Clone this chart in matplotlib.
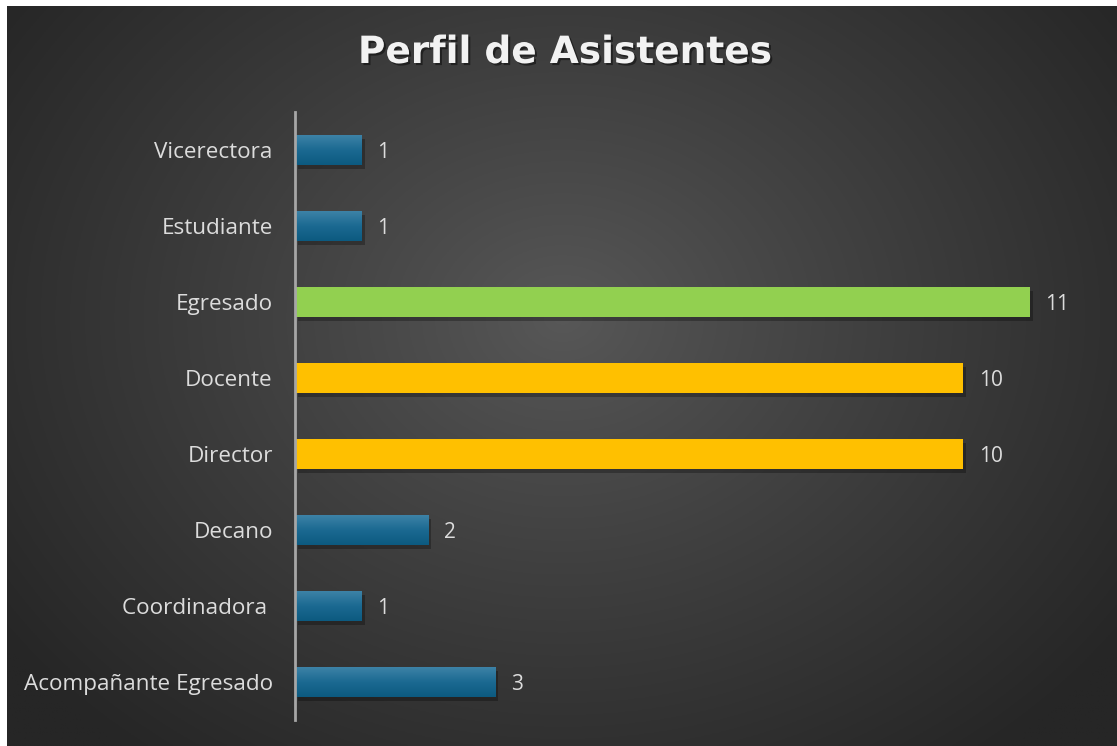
import numpy as np
import matplotlib
matplotlib.use("Agg")
import matplotlib.pyplot as plt
import matplotlib.patheffects as pe
from matplotlib.colors import LinearSegmentedColormap

categories = ["Acompañante Egresado", "Coordinadora ", "Decano", "Director",
              "Docente", "Egresado", "Estudiante", "Vicerectora"]
values = [3, 1, 2, 10, 10, 11, 1, 1]
bar_colors = ["blue", "blue", "blue", "#ffc000", "#ffc000", "#92d050", "blue", "blue"]
title = "Perfil de Asistentes"

W, H = 1117, 746
fig = plt.figure(figsize=(W / 100, H / 100), dpi=100)
fig.patch.set_facecolor("white")

# background panel with radial gradient
bg = fig.add_axes([7 / W, 0, 1 - 7 / W, 1 - 6 / H])
bg.set_axis_off()
ny, nx = 400, 600
yy, xx = np.mgrid[0:ny, 0:nx]
cx, cy = nx * 0.50, ny * 0.42
r = np.sqrt(((xx - cx) / (nx * 0.62)) ** 2 + ((yy - cy) / (ny * 0.75)) ** 2)
r = np.clip(r, 0, 1)
c0, c1 = 0x58 / 255, 0x26 / 255
img = c0 + (c1 - c0) * r ** 0.9
bg.imshow(np.dstack([img, img, img]), aspect="auto", extent=[0, 1, 0, 1], origin="upper")
bg.set_xlim(0, 1)
bg.set_ylim(0, 1)

ax = fig.add_axes([295 / W, 1 - 720 / H, (1097 - 295) / W, (720 - 112) / H])
ax.patch.set_alpha(0)
y = np.arange(len(categories))
blue_cmap = LinearSegmentedColormap.from_list("b", ["#3f84a8", "#1c6a92", "#0c5a80"])
shadow = [pe.SimplePatchShadow(offset=(2, -3), shadow_rgbFace="black", alpha=0.28), pe.Normal()]
bars = ax.barh(y, values, height=0.4,
               color=[c if c != "blue" else "#1a6a90" for c in bar_colors],
               zorder=3)
for b, c in zip(bars, bar_colors):
    b.set_path_effects(shadow)
    if c == "blue":
        x0, y0 = b.get_x(), b.get_y()
        w, h = b.get_width(), b.get_height()
        grad = np.linspace(0, 1, 64).reshape(-1, 1)
        im = ax.imshow(grad, cmap=blue_cmap, aspect="auto",
                       extent=[x0, x0 + w, y0, y0 + h], origin="upper", zorder=4)
        im.set_clip_path(b)

for b, v in zip(bars, values):
    ax.text(b.get_width() + 0.23, b.get_y() + b.get_height() / 2, str(v),
            va="center_baseline", ha="left", fontsize=15, color="#dcdcdc",
            family="Open Sans", zorder=5)

ax.set_xlim(0, 12)
ax.set_ylim(-0.5, len(categories) - 0.5)
ax.set_yticks(y)
ax.set_yticklabels(categories, fontsize=16.2, color="#dcdcdc", family="Open Sans")
ax.tick_params(axis="y", length=0, pad=16)
ax.set_xticks([])
for s in ["top", "right", "bottom"]:
    ax.spines[s].set_visible(False)
ax.spines["left"].set_color("#a6a6a6")
ax.spines["left"].set_linewidth(2)
ax.spines["left"].set_zorder(6)

fig.text(565 / W, 1 - 53 / H, title, ha="center", va="center",
         fontsize=27, fontweight="bold", color="#f2f2f2", family="DejaVu Sans",
         path_effects=[pe.withSimplePatchShadow(offset=(1.5, -1.5), shadow_rgbFace="black", alpha=0.45)])

fig.savefig("out.png", dpi=100, facecolor=fig.get_facecolor())
